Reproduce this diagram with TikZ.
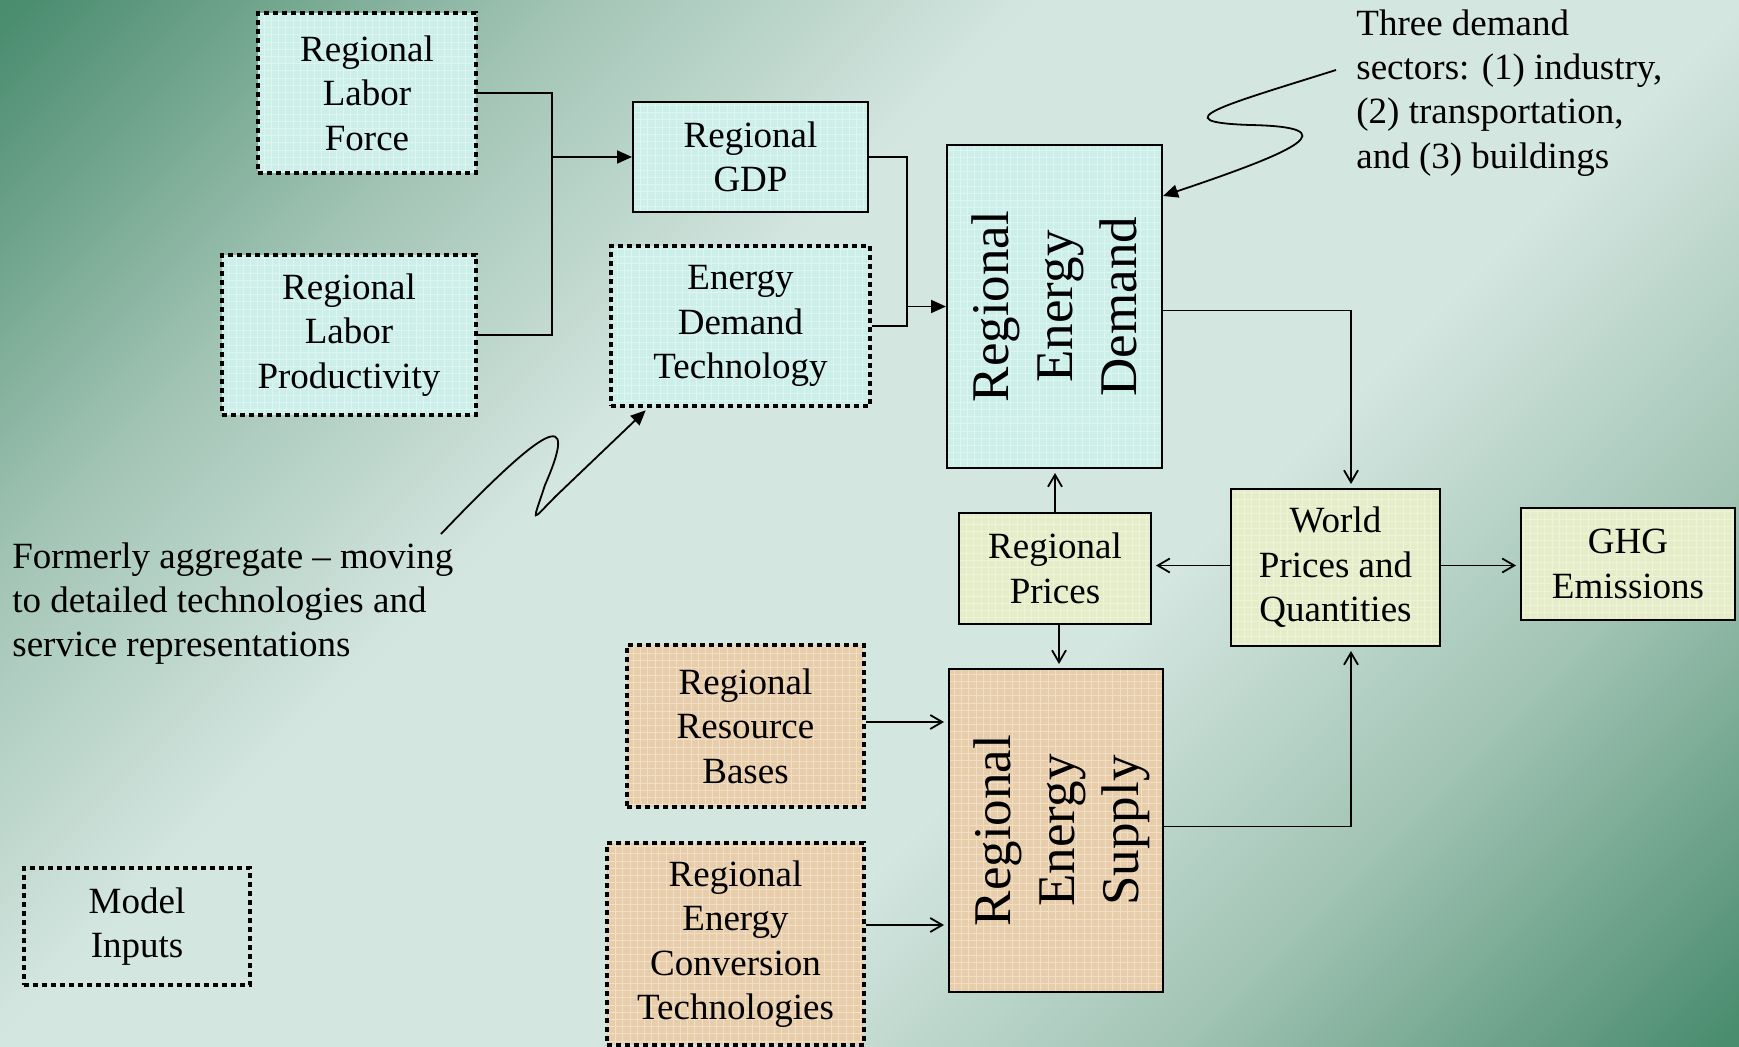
\documentclass[tikz,border=0pt]{standalone}
\usepackage{fontspec}
\setmainfont{Liberation Serif}
\usepackage{graphicx}
\usetikzlibrary{arrows.meta,calc}
\definecolor{bgdark}{RGB}{74,140,110}
\definecolor{bgmid}{RGB}{162,196,181}
\definecolor{bglight}{RGB}{212,230,224}
\definecolor{cyanfill}{RGB}{204,239,234}
\definecolor{yelfill}{RGB}{228,236,200}
\definecolor{orgfill}{RGB}{232,205,170}
\pgfdeclareverticalshading{bgshade}{100bp}{color(0bp)=(bgdark); color(15bp)=(bgdark); color(29bp)=(bgmid); color(41bp)=(bglight); color(59bp)=(bglight); color(71bp)=(bgmid); color(85bp)=(bgdark); color(100bp)=(bgdark)}
\newcommand\boxfont{\fontsize{18.5pt}{22.2pt}\selectfont}
\newcommand\bigboxfont{\fontsize{26.5pt}{32pt}\selectfont}
\newcommand\sidetext[1]{\hspace*{5.6pt}\rotatebox{90}{\begin{tabular}{@{}c@{}}#1\end{tabular}}}
\tikzset{
  gridtex/.style={path picture={\draw[solid, white, opacity=0.35, line width=0.4pt]
      (path picture bounding box.south west) grid[step=3.6pt] (path picture bounding box.north east);}},
  plainbox/.style={draw=black, line width=1pt, inner sep=0pt, align=center, font=\boxfont},
  box/.style={plainbox, gridtex},
  dotted box/.style={line width=2.3pt, dash pattern=on 2.4pt off 2.1pt},
  inbox/.style={box, dotted box},
  conn/.style={draw=black, line width=0.9pt},
  arr/.style={-{Straight Barb[length=6pt,width=7pt]}, shorten >=2pt},
  farr/.style={-{Triangle[length=7.5pt,width=6.5pt]}},
  note/.style={anchor=north west, align=left, inner sep=0pt, font=\boxfont}
}
\begin{document}
\begin{tikzpicture}[x=0.5pt,y=-0.5pt]
\useasboundingbox (0,0) rectangle (1739,1047);
\shade[shading=bgshade, shading angle=45] (0,0) rectangle (1739,1047);

% model input boxes
\node[inbox, fill=cyanfill, minimum width=109pt, minimum height=80pt] (lf) at (367,93) {Regional\\Labor\\Force};
\node[inbox, fill=cyanfill, minimum width=127pt, minimum height=80pt] (lp) at (349,335) {Regional\\Labor\\Productivity};
\node[inbox, fill=cyanfill, minimum width=129.5pt, minimum height=80pt] (edt) at (740.5,326) {Energy\\Demand\\Technology};
\node[inbox, fill=orgfill, minimum width=118.5pt, minimum height=81pt] (rrb) at (745.5,726) {Regional\\Resource\\Bases};
\node[inbox, fill=orgfill, minimum width=128.5pt, minimum height=101pt] (rect) at (735.5,944) {Regional\\Energy\\Conversion\\Technologies};
\node[plainbox, dotted box, minimum width=113pt, minimum height=58.5pt] (mi) at (137,926.5) {Model\\Inputs};

% solid boxes
\node[box, fill=cyanfill, minimum width=117.5pt, minimum height=55pt] (gdp) at (750.5,157) {Regional\\GDP};
\node[box, fill=cyanfill, minimum width=107.5pt, minimum height=161.5pt] (red) at (1054.5,306.5)
  {\bigboxfont\sidetext{Regional\\Energy\\Demand}};
\node[box, fill=orgfill, minimum width=107pt, minimum height=161.5pt] (res) at (1056,830.5)
  {\bigboxfont\sidetext{Regional\\Energy\\Supply}};
\node[box, fill=yelfill, minimum width=96pt, minimum height=55.5pt] (rp) at (1055,568.5) {Regional\\Prices};
\node[box, fill=yelfill, minimum width=104.5pt, minimum height=78.5pt] (wpq) at (1335.5,567.5) {World\\Prices and\\Quantities};
\node[box, fill=yelfill, minimum width=107pt, minimum height=56pt] (ghg) at (1628,564) {GHG\\Emissions};

% notes
\node[note] (note1) at (1356,9) {Three demand\\sectors: (1) industry,\\(2) transportation,\\and (3) buildings};
\node[note] (note2) at (12,542) {Formerly aggregate – moving\\to detailed technologies and\\service representations};

% connectors
\coordinate (j1) at (552,157);
\draw[conn] (lf.east) -| (j1) |- (lp.east);
\draw[conn, farr] (j1) -- (gdp.west);
\coordinate (j2) at (907,306.5);
\draw[conn] (gdp.east) -| (j2) |- (edt.east);
\draw[conn, farr] (j2) -- (red.west);
\coordinate (c1) at (1351,0);
\draw[conn, arr] ([yshift=-2pt]red.east) -| (c1 |- wpq.north);
\draw[conn, arr] ([yshift=2pt]res.east) -| (c1 |- wpq.south);
\draw[conn, arr] ([yshift=1pt]wpq.west) -- ([yshift=1pt]wpq.west -| rp.east);
\draw[conn, arr] ([yshift=1pt]wpq.east) -- ([yshift=1pt]wpq.east -| ghg.west);
\draw[conn, arr] (rp.north) -- (rp.north |- red.south);
\draw[conn, arr] ([xshift=2pt]rp.south) -- ([xshift=2pt]rp.south |- res.north);
\draw[conn, arr] ([yshift=2pt]rrb.east) -- ([yshift=2pt]rrb.east -| res.west);
\draw[conn, arr] ([yshift=9.5pt]rect.east) -- ([yshift=9.5pt]rect.east -| res.west);

% annotation arrows
\coordinate (s1) at ($(note1.north west)+(-20,61)$);
\draw[conn, farr] (s1) .. controls (1225,105) and (1160,122) .. (1250,125)
   .. controls (1348,127) and (1300,150) .. ($(red.north east)+(0,52)$);
\coordinate (s2) at ($(note2.north west)+(429,-8)$);
\draw[conn, farr] (s2) .. controls (545,425) and (580,405) .. (545,485)
   .. controls (532,525) and (530,522) .. (556,496) -- ($(edt.south west)+(37,2)$);
\end{tikzpicture}
\end{document}
